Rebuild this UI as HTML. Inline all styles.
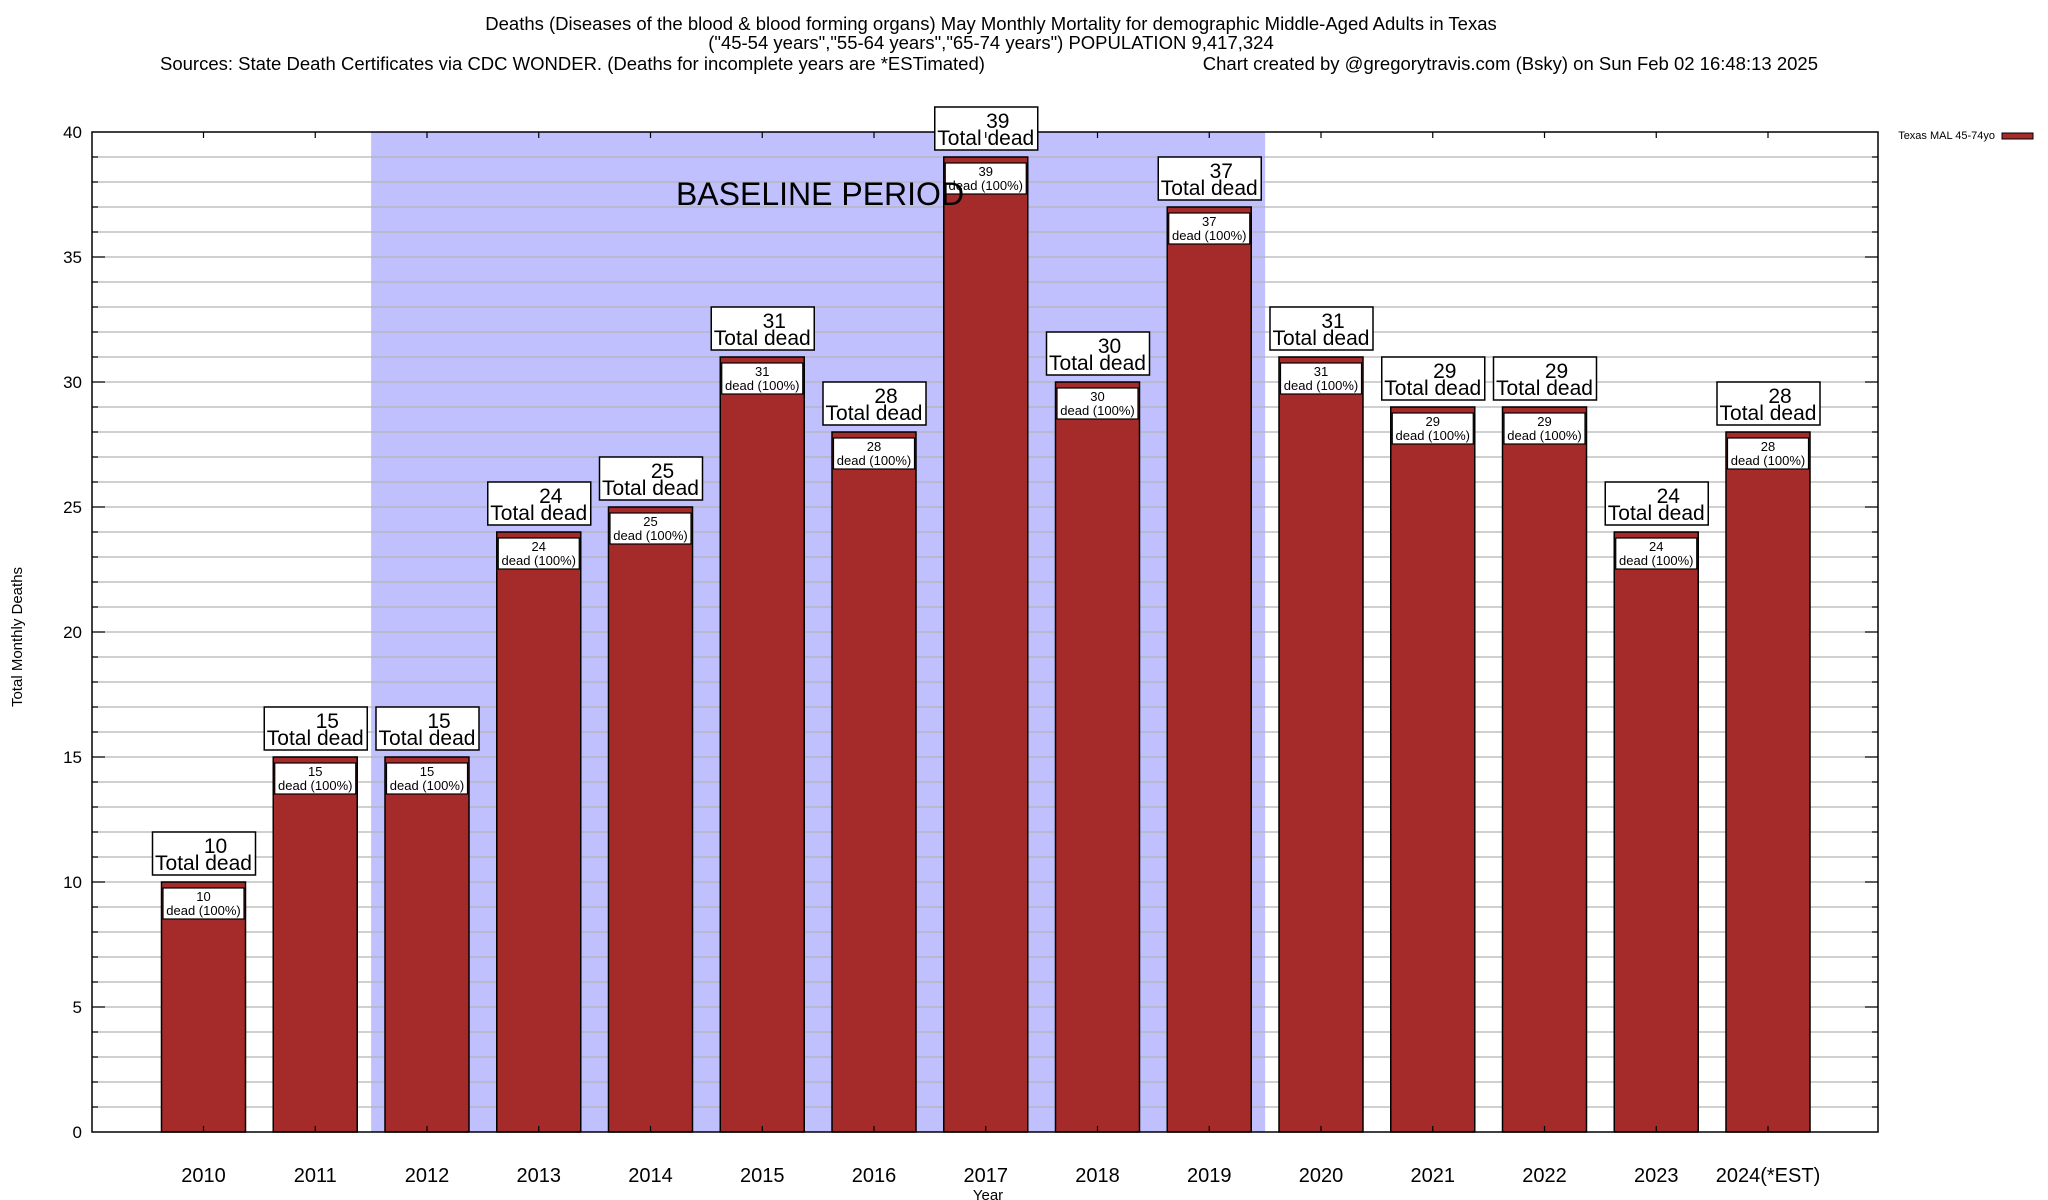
<!DOCTYPE html>
<html><head><meta charset="utf-8"><style>
html,body{margin:0;padding:0;background:#fff;}
svg{display:block;font-family:"Liberation Sans",Arial,sans-serif;}
</style></head><body>
<svg id="chart" width="2048" height="1200" viewBox="0 0 2048 1200">
<g font-size="18.5" fill="#000">
<text x="991" y="30" text-anchor="middle">Deaths (Diseases of the blood &amp; blood forming organs) May Monthly Mortality for demographic Middle-Aged Adults in Texas</text>
<text x="991" y="49" text-anchor="middle">("45-54 years","55-64 years","65-74 years") POPULATION 9,417,324</text>
<text x="160" y="70" text-anchor="start">Sources: State Death Certificates via CDC WONDER. (Deaths for incomplete years are *ESTimated)</text>
<text x="1818" y="70" text-anchor="end">Chart created by @gregorytravis.com (Bsky) on Sun Feb 02 16:48:13 2025</text>
</g>
<rect id="shade" x="0" y="132" width="0" height="1000" fill="#c0c0ff"/>
<g id="grid"></g>
<g id="bars"></g>
<text x="820" y="205" font-size="32" text-anchor="middle">BASELINE PERIOD</text>
<rect x="92" y="132" width="1786" height="1000" fill="none" stroke="#000" stroke-width="1.5"/>
<g id="labels"></g>
<g id="axes"></g>
<text x="988" y="1200" font-size="15" text-anchor="middle">Year</text>
<text x="22" y="637" font-size="15" text-anchor="middle" transform="rotate(-90 22 637)">Total Monthly Deaths</text>
<g>
<text x="1995" y="139" font-size="11" text-anchor="end">Texas MAL 45-74yo</text>
<rect x="2002" y="133" width="31" height="6" fill="#a52a2a" stroke="#000" stroke-width="1"/>
</g>
</svg>
<script>
const categories = ["2010","2011","2012","2013","2014","2015","2016","2017","2018","2019","2020","2021","2022","2023","2024(*EST)"];
const deaths = [10,15,15,24,25,31,28,39,30,37,31,29,29,24,28];
const yTicks = [0,5,10,15,20,25,30,35,40];
const baselineRange = [2011.5, 2019.5];
const NS="http://www.w3.org/2000/svg";
const x0=203.5, step=111.75, y0=1132, yTop=132, yMax=40;
function xScale(i){return x0+step*i;}
function yScale(v){return y0-(v/yMax)*(y0-yTop);}
function mk(tag,attrs,parent){const e=document.createElementNS(NS,tag);for(const k in attrs)e.setAttribute(k,attrs[k]);parent.appendChild(e);return e;}
const shade=document.getElementById('shade');
const sx1=xScale(baselineRange[0]-2010), sx2=xScale(baselineRange[1]-2010);
shade.setAttribute('x',sx1);shade.setAttribute('width',sx2-sx1);
const grid=document.getElementById('grid'), axes=document.getElementById('axes');
for(let v=1;v<yMax;v++){
  const l=mk('line',{x1:92,x2:1878,y1:yScale(v),y2:yScale(v),stroke:'#b4b4b4','stroke-width':1.3},grid);
  
  
  const len=(v%5===0)?13:6;
  mk('line',{x1:92,x2:92+len,y1:yScale(v),y2:yScale(v),stroke:'#000','stroke-width':1.2},axes);
  mk('line',{x1:1878-len,x2:1878,y1:yScale(v),y2:yScale(v),stroke:'#000','stroke-width':1.2},axes);
}
yTicks.forEach(v=>{
  const t=mk('text',{x:82,y:yScale(v)+6,'font-size':17,'text-anchor':'end'},axes);
  
  
  t.textContent=v;
});
const bars=document.getElementById('bars'), labels=document.getElementById('labels');
categories.forEach((c,i)=>{
  const cx=xScale(i), v=deaths[i], top=yScale(v);
  mk('line',{x1:cx,x2:cx,y1:132,y2:138,stroke:'#000','stroke-width':1.2},axes);
  mk('line',{x1:cx,x2:cx,y1:1126,y2:1132,stroke:'#000','stroke-width':1.2},axes);
  const b=mk('rect',{x:cx-42,y:top,width:84,height:y0-top,fill:'#a52a2a',stroke:'#000','stroke-width':1.5},bars);
  
  
  const ib=mk('rect',{x:cx-40.5,y:top+6,width:81,height:31,fill:'#fff',stroke:'#000','stroke-width':1.2},bars);
  
  
  const t1=mk('text',{x:cx,y:top+19,'font-size':13,'text-anchor':'middle'},bars);
  
  
  t1.textContent=v;
  const t2=mk('text',{x:cx,y:top+33,'font-size':13,'text-anchor':'middle'},bars);
  
  
  t2.textContent='dead (100%)';
  const ob=mk('rect',{x:cx-51,y:top-50,width:103,height:43,fill:'#fff',stroke:'#000','stroke-width':1.5},labels);
  
  
  const n=mk('text',{x:cx+12,y:top-29,'font-size':21,'text-anchor':'middle'},labels);
  
  
  n.textContent=v;
  const td=mk('text',{x:cx,y:top-12,'font-size':21,'text-anchor':'middle'},labels);
  
  
  td.textContent='Total dead';
  const xl=mk('text',{x:cx,y:1182,'font-size':20,'text-anchor':'middle'},axes);
  
  
  xl.textContent=c;
});
</script>
</body></html>
